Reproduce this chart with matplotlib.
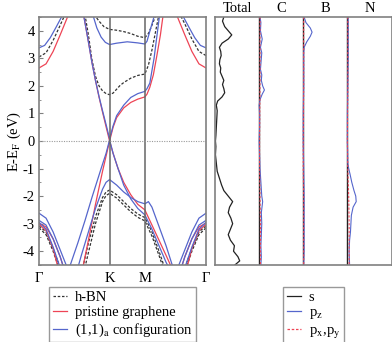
#!/usr/bin/env python3
"""Band structure of graphene on h-BN plus projected DOS -> out.png"""
import numpy as np
import matplotlib
matplotlib.use("Agg")
import matplotlib.pyplot as plt
from matplotlib.lines import Line2D
from matplotlib.transforms import blended_transform_factory

plt.rcParams['font.family'] = ['Liberation Serif', 'DejaVu Serif']
plt.rcParams['mathtext.fontset'] = 'stix'
plt.rcParams['font.size'] = 10

# path Gamma-K-M-Gamma (lengths 1 : 0.5 : 0.866)
kpath_pos = [0.0, 1.0, 1.5, 2.366]
kpath_labels = ['Γ', 'K', 'M', 'Γ']

# ---- h-BN bands (dashed black) ----
bn_k = [
    [0, 0.1, 0.2, 0.3, 0.37],
    [2.366, 2.266, 2.166, 2.066, 1.996],
    [0.65, 0.7, 0.75, 0.8, 0.85, 0.9, 0.95, 1.0, 1.05, 1.1, 1.15, 1.2, 1.3, 1.4, 1.5, 1.55, 1.6, 1.65, 1.7],
    [0.78, 0.85, 0.92, 1.0, 1.1, 1.2, 1.3, 1.4, 1.5, 1.55, 1.6, 1.66],
    [0.62, 0.7, 0.8, 0.9, 0.95, 1.0, 1.1, 1.2, 1.3, 1.4, 1.5, 1.6, 1.7, 1.78],
    [0.65, 0.7, 0.8, 0.9, 0.95, 1.0, 1.1, 1.2, 1.3, 1.4, 1.5, 1.6, 1.7, 1.76],
    [0, 0.1, 0.2, 0.3],
    [0, 0.1, 0.2, 0.28],
    [2.366, 2.266, 2.166, 2.066],
    [2.366, 2.266, 2.166, 2.086],
]
bn_E = [
    [3.05, 3.2, 3.65, 4.2, 4.6],
    [3.1, 3.25, 3.7, 4.25, 4.6],
    [4.6, 3.85, 2.95, 2.35, 2.0, 1.82, 1.72, 1.68, 1.74, 1.88, 2.02, 2.12, 2.28, 2.38, 2.43, 2.75, 3.3, 3.95, 4.6],
    [4.6, 4.35, 4.15, 4.05, 4.02, 3.97, 3.9, 3.8, 3.75, 3.9, 4.2, 4.6],
    [-4.6, -3.7, -2.75, -2.05, -1.85, -1.78, -1.95, -2.2, -2.45, -2.65, -2.78, -3.3, -4.0, -4.6],
    [-4.6, -4.05, -3.0, -2.2, -1.98, -1.9, -2.07, -2.32, -2.57, -2.77, -2.9, -3.45, -4.15, -4.6],
    [-3.08, -3.3, -3.9, -4.6],
    [-3.15, -3.4, -4.0, -4.6],
    [-3.08, -3.3, -3.9, -4.6],
    [-3.15, -3.4, -4.0, -4.6],
]

# ---- pristine graphene bands (red) ----
gr_k = [
    [0, 0.1, 0.2, 0.3, 0.42],
    [2.366, 2.266, 2.166, 2.066, 1.946],
    [0.63, 0.7, 0.75, 0.8, 0.85, 0.9, 0.95, 1.0, 1.05, 1.1, 1.2, 1.3, 1.4, 1.5, 1.53, 1.57, 1.62, 1.67, 1.72, 1.76],
    [0.62, 0.7, 0.8, 0.9, 0.95, 1.0, 1.05, 1.12, 1.2, 1.3, 1.4, 1.5, 1.6, 1.7, 1.8, 1.88],
    [0, 0.1, 0.2, 0.3, 0.35],
    [0, 0.1, 0.2, 0.27],
    [2.366, 2.266, 2.166, 2.066, 2.016],
    [2.366, 2.266, 2.166, 2.096],
]
gr_E = [
    [2.65, 2.8, 3.25, 3.85, 4.6],
    [2.65, 2.8, 3.25, 3.85, 4.6],
    [4.6, 3.6, 2.85, 2.2, 1.6, 1.05, 0.52, 0.0, 0.5, 0.85, 1.2, 1.4, 1.52, 1.6, 1.7, 1.95, 2.4, 3.1, 3.85, 4.6],
    [-4.6, -3.6, -2.3, -1.1, -0.55, 0.0, -0.45, -1.0, -1.5, -1.95, -2.3, -2.5, -3.05, -3.6, -4.15, -4.6],
    [-2.98, -3.12, -3.55, -4.2, -4.6],
    [-3.02, -3.25, -3.9, -4.6],
    [-2.98, -3.12, -3.55, -4.2, -4.6],
    [-3.02, -3.25, -3.9, -4.6],
]

# ---- (1,1)a configuration bands (blue) ----
cfg_k = [
    [0, 0.08, 0.16, 0.24, 0.34],
    [2.366, 2.286, 2.206, 2.126, 2.026],
    [0.76, 0.82, 0.88, 0.94, 1.0, 1.1, 1.25, 1.4, 1.5, 1.53, 1.57, 1.64],
    [0.63, 0.7, 0.75, 0.8, 0.85, 0.9, 0.95, 1.0, 1.05, 1.1, 1.2, 1.3, 1.4, 1.5, 1.53, 1.57, 1.63, 1.71],
    [0.43, 0.55, 0.65, 0.75, 0.88, 0.95, 1.0, 1.05, 1.12, 1.2, 1.3, 1.4, 1.5, 1.6, 1.7, 1.8, 1.84],
    [0.55, 0.6, 0.7, 0.8, 0.9, 0.95, 1.0, 1.1, 1.2, 1.3, 1.4, 1.5, 1.55, 1.6, 1.7, 1.8, 1.9],
    [0, 0.1, 0.2, 0.3, 0.4],
    [0, 0.1, 0.2, 0.3, 0.35],
    [0, 0.1, 0.2, 0.3],
    [2.366, 2.266, 2.166, 2.066, 1.966],
    [2.366, 2.266, 2.166, 2.066, 2.016],
    [2.366, 2.266, 2.166, 2.066],
]
cfg_E = [
    [3.38, 3.47, 3.75, 4.12, 4.6],
    [3.38, 3.47, 3.75, 4.12, 4.6],
    [4.6, 4.1, 3.77, 3.58, 3.5, 3.55, 3.6, 3.56, 3.52, 3.62, 3.98, 4.6],
    [4.6, 3.6, 2.85, 2.2, 1.62, 1.1, 0.6, 0.08, 0.55, 0.92, 1.3, 1.58, 1.72, 1.8, 1.9, 2.1, 3.0, 4.6],
    [-4.6, -3.7, -2.9, -2.05, -1.0, -0.45, 0.04, -0.45, -1.0, -1.6, -2.1, -2.45, -2.68, -3.2, -3.8, -4.4, -4.6],
    [-4.6, -4.15, -3.3, -2.45, -1.75, -1.5, -1.4, -1.6, -1.85, -2.05, -2.2, -2.28, -2.2, -2.4, -3.1, -3.8, -4.6],
    [-2.62, -2.8, -3.3, -3.95, -4.6],
    [-2.88, -3.05, -3.55, -4.2, -4.6],
    [-2.95, -3.2, -3.85, -4.6],
    [-2.62, -2.8, -3.3, -3.95, -4.6],
    [-2.88, -3.05, -3.55, -4.2, -4.6],
    [-2.95, -3.2, -3.85, -4.6],
]

# ---- DOS ----
dos_titles = ['Total', 'C', 'B', 'N']
total_E = [4.5, 4.35, 4.15, 4.0, 3.85, 3.7, 3.55, 3.4, 3.25, 3.1, 2.95, 2.8, 2.65, 2.5, 2.35,
           2.2, 2.05, 1.9, 1.75, 1.6, 1.45, 1.3, 1.1, 0.8, 0.5, 0.2, 0.0, -0.2, -0.5, -0.8,
           -1.1, -1.4, -1.6, -1.8, -2.0, -2.2, -2.4, -2.6, -2.8, -3.0, -3.2, -3.4, -3.6,
           -3.8, -4.0, -4.2, -4.35, -4.5]
total_dos = [0.2, 0.17, 0.22, 0.3, 0.38, 0.3, 0.16, 0.1, 0.13, 0.14, 0.11, 0.1, 0.13, 0.12, 0.16,
             0.2, 0.17, 0.2, 0.22, 0.16, 0.06, 0.03, 0.05, 0.04, 0.03, 0.02, 0.01, 0.02, 0.01, 0.03,
             0.05, 0.11, 0.15, 0.2, 0.3, 0.4, 0.33, 0.3, 0.36, 0.4, 0.35, 0.3, 0.35,
             0.44, 0.42, 0.52, 0.56, 0.45]

c_pz_E = [4.5, 4.3, 4.0, 3.7, 3.4, 3.2, 3.0, 2.8, 2.6, 2.4, 2.2, 2.0, 1.85, 1.7, 1.5, 1.3, 1.0,
          0.5, 0.0, -0.5, -1.0, -1.5, -2.0, -2.2, -2.6, -3.0, -3.4, -3.8, -4.2, -4.5]
c_pz = [0.02, 0.04, 0.03, 0.07, 0.03, 0.06, 0.05, 0.04, 0.03, 0.06, 0.05, 0.08, 0.12, 0.07, 0.02,
        0.0, 0.01, 0.01, 0.0, 0.01, 0.02, 0.04, 0.06, 0.08, 0.05, 0.06, 0.05, 0.04, 0.05, 0.04]
b_pz_E = [4.5, 4.3, 4.1, 3.95, 3.8, 3.6, 3.4, 3.2, 2.0, 1.0, 0.0, -1.0, -2.0, -3.0, -4.0, -4.5]
b_pz = [0.02, 0.06, 0.16, 0.2, 0.16, 0.08, 0.02, 0.01, 0.01, 0.0, 0.0, 0.01, 0.02, 0.02, 0.02, 0.01]
n_pz_E = [4.5, 4.0, 3.0, 2.0, 1.0, 0.0, -0.8, -1.0, -1.2, -1.5, -1.8, -2.0, -2.2, -2.4, -2.7,
          -3.0, -3.3, -3.6, -4.0, -4.5]
n_pz = [0.02, 0.02, 0.02, 0.01, 0.0, 0.0, 0.01, 0.03, 0.06, 0.1, 0.15, 0.19, 0.2, 0.13, 0.09,
        0.08, 0.07, 0.05, 0.04, 0.05]
pxy_E = [4.5, 2.0, 0.0, -1.0, -2.0, -3.0, -4.5]
c_pxy = [0.02, 0.02, 0.01, 0.01, 0.02, 0.03, 0.03]
b_pxy = [0.01, 0.01, 0.0, 0.0, 0.01, 0.01, 0.01]
n_pxy = [0.01, 0.01, 0.0, 0.01, 0.03, 0.04, 0.04]
s_E = [4.5, -4.5]
s_dos = [0.0, 0.0]

RED = '#ee4455'
BLUE = '#5566cc'
DASH = '#333333'
SPINE = '#808080'
FS = 10.5

W, H = 392, 342
fig = plt.figure(figsize=(W / 100, H / 100), dpi=100)
ax = fig.add_axes([39 / W, 1 - 265 / H, (206 - 39) / W, (265 - 17) / H])
axd = fig.add_axes([215 / W, 1 - 265 / H, (391.5 - 215) / W, (265 - 17) / H])

# band structure
for k, e in zip(bn_k, bn_E):
    ax.plot(k, e, color=DASH, lw=0.9, ls=(0, (2.2, 1.4)))
for k, e in zip(gr_k, gr_E):
    ax.plot(k, e, color=RED, lw=0.9)
for k, e in zip(cfg_k, cfg_E):
    ax.plot(k, e, color=BLUE, lw=0.9)

for x in kpath_pos[1:-1]:
    ax.axvline(x, color='#666666', lw=1.1)
ax.axhline(0, color='#999999', lw=0.8, ls=(0, (1, 1.2)))
ax.set_xlim(kpath_pos[0], kpath_pos[-1])
ax.set_ylim(-4.5, 4.5)
ax.set_xticks(kpath_pos)
ax.set_xticklabels(kpath_labels, fontsize=FS)
ax.tick_params(axis='x', length=0, pad=5)
ax.set_yticks(range(-4, 5))
ax.set_yticklabels([str(v) for v in range(-4, 5)], fontsize=FS)
ax.set_yticks(np.arange(-4.5, 4.6, 0.5), minor=True)
ax.tick_params(axis='y', direction='in', length=3, width=0.8, color=SPINE, pad=3)
ax.tick_params(axis='y', which='minor', direction='in', length=1.5, width=0.6, color=SPINE)
ax.set_ylabel('E-E$_\\mathrm{F}$ (eV)', fontsize=FS, labelpad=0)

# DOS panel
axd.plot(total_dos, total_E, color='#222222', lw=0.9)
cols = [(1, c_pz, c_pz_E, c_pxy), (2, b_pz, b_pz_E, b_pxy), (3, n_pz, n_pz_E, n_pxy)]
for base, pz, pz_E, pxy in cols:
    axd.plot(np.add(s_dos, base), s_E, color='#222222', lw=1.0)
    axd.plot(np.add(pz, base), pz_E, color=BLUE, lw=0.8)
    axd.plot(np.add(pxy, base), pxy_E, color=RED, lw=0.8, ls=(0, (2, 1.5)))
axd.set_xlim(0, 4)
axd.set_ylim(-4.5, 4.5)
axd.set_xticks([])
axd.set_yticks([])
tr = blended_transform_factory(axd.transData, axd.transAxes)
for i, t in enumerate(dos_titles):
    axd.text(i + 0.5, 1.008, t, transform=tr, ha='center', va='bottom', fontsize=FS)

for a in (ax, axd):
    for sp in a.spines.values():
        sp.set_color(SPINE)
        sp.set_linewidth(1.2)

# legends
h1 = [Line2D([], [], color=DASH, lw=0.9, ls=(0, (2, 1.4))),
      Line2D([], [], color=RED, lw=0.9),
      Line2D([], [], color=BLUE, lw=0.9)]
l1 = ['h-BN', 'pristine graphene', '(1,1)$_\\mathrm{a}$ configuration']
leg1 = fig.legend(h1, l1, loc='upper left', bbox_to_anchor=(49 / W, 1 - 287 / H),
                  fontsize=FS, frameon=True, fancybox=False, edgecolor=SPINE,
                  handlelength=1.0, handletextpad=0.5, labelspacing=0.15,
                  borderpad=0.25, borderaxespad=0)
leg1.get_frame().set_linewidth(1.0)

h2 = [Line2D([], [], color='#222222', lw=0.9),
      Line2D([], [], color=BLUE, lw=0.9),
      Line2D([], [], color=RED, lw=0.9, ls=(0, (2, 1.4)))]
l2 = ['s', 'p$_\\mathrm{z}$', 'p$_\\mathrm{x}$,p$_\\mathrm{y}$']
leg2 = fig.legend(h2, l2, loc='upper left', bbox_to_anchor=(283 / W, 1 - 287 / H),
                  fontsize=FS, frameon=True, fancybox=False, edgecolor=SPINE,
                  handlelength=1.0, handletextpad=0.5, labelspacing=0.15,
                  borderpad=0.25, borderaxespad=0)
leg2.get_frame().set_linewidth(1.0)

fig.savefig('out.png', dpi=100)
plt.close(fig)
